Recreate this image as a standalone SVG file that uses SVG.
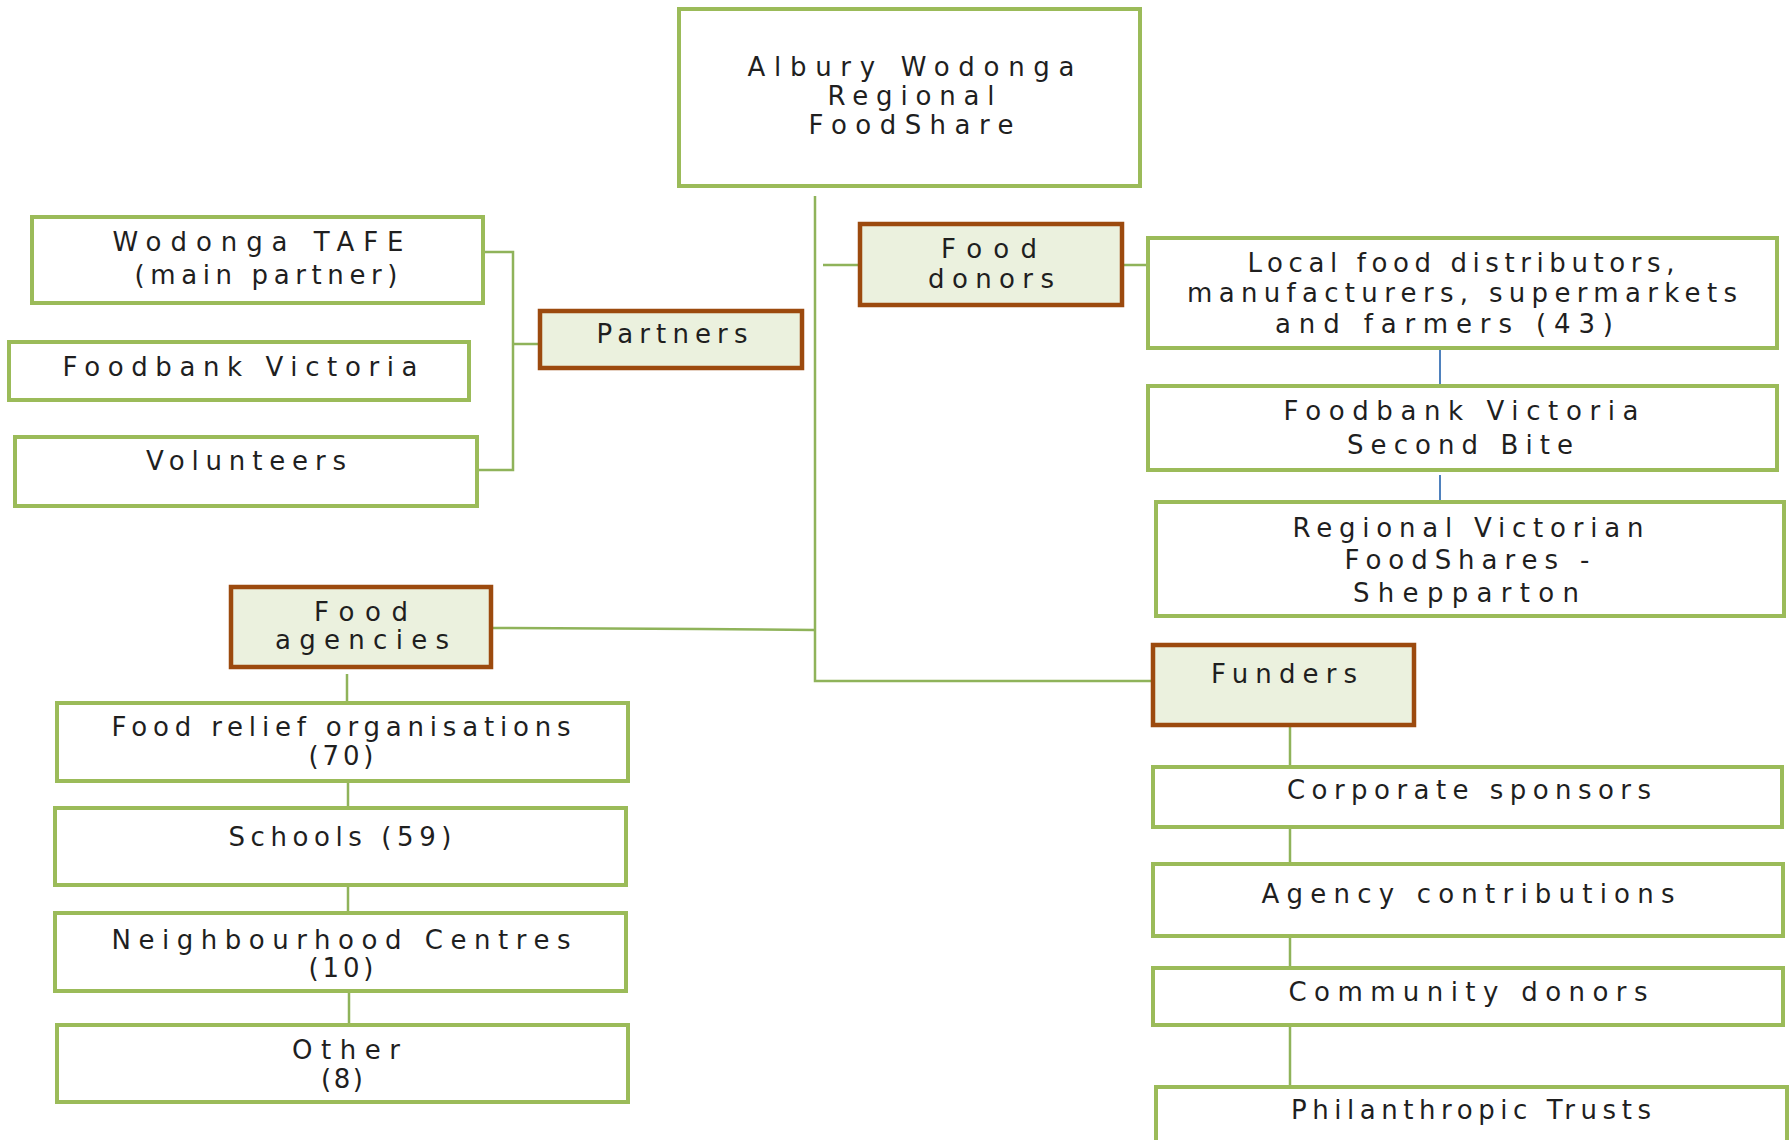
<svg xmlns="http://www.w3.org/2000/svg" width="1790" height="1140" viewBox="0 0 1790 1140">
  <style>
    .box { fill: #ffffff; stroke: #9bbb59; stroke-width: 4; }
    .head { fill: #ebf1de; stroke: #9c4a0e; stroke-width: 4.5; }
    .lbl { font-family: "DejaVu Sans", "Liberation Sans", Arial, sans-serif; font-size: 26px; fill: #1f1f1f; text-anchor: middle; }
    .link { fill: none; stroke: #8fb35a; stroke-width: 2.5; }
    .blue { fill: none; stroke: #4f81bd; stroke-width: 2; }
  </style>
  <rect width="1790" height="1140" fill="#ffffff"/>

  <!-- connectors -->
  <g id="connectors">
    <!-- trunk from the root -->
    <path class="link" d="M815,196 V681 H1153"/>
    <!-- food agencies branch -->
    <path class="link" d="M491,628 L700,629 L815,630"/>
    <!-- food donors branch -->
    <path class="link" d="M823,265 H860"/>
    <path class="link" d="M1122,265 H1148"/>
    <path class="blue" d="M1440,348 V386"/>
    <path class="blue" d="M1440,475 V502"/>
    <!-- partners bracket -->
    <path class="link" d="M483,252 H513 V470 H477"/>
    <path class="link" d="M513,344 H540"/>
    <!-- food agencies chain -->
    <path class="link" d="M347,674 V703"/>
    <path class="link" d="M348,781 V808"/>
    <path class="link" d="M348,885 V913"/>
    <path class="link" d="M349,991 V1025"/>
    <!-- funders chain -->
    <path class="link" d="M1290,725 V767"/>
    <path class="link" d="M1290,827 V864"/>
    <path class="link" d="M1290,936 V968"/>
    <path class="link" d="M1290,1025 V1087"/>
  </g>

  <g id="root">
    <rect class="box" x="679" y="9" width="461" height="177"/>
    <text class="lbl" x="911" y="76" textLength="327" lengthAdjust="spacing">Albury Wodonga</text>
    <text class="lbl" x="911" y="105" textLength="167" lengthAdjust="spacing">Regional</text>
    <text class="lbl" x="911" y="134" textLength="205" lengthAdjust="spacing">FoodShare</text>
  </g>

  <g id="wodonga-tafe">
    <rect class="box" x="32" y="217" width="451" height="86"/>
    <text class="lbl" x="258" y="251" textLength="291" lengthAdjust="spacing">Wodonga TAFE</text>
    <text class="lbl" x="266" y="284" textLength="263" lengthAdjust="spacing">(main partner)</text>
  </g>

  <g id="foodbank-victoria-partner">
    <rect class="box" x="9" y="342" width="460" height="58"/>
    <text class="lbl" x="240" y="376" textLength="355" lengthAdjust="spacing">Foodbank Victoria</text>
  </g>

  <g id="volunteers">
    <rect class="box" x="15" y="437" width="462" height="69"/>
    <text class="lbl" x="246" y="470" textLength="200" lengthAdjust="spacing">Volunteers</text>
  </g>

  <g id="partners">
    <rect class="head" x="540" y="311" width="262" height="57"/>
    <text class="lbl" x="672" y="343" textLength="151" lengthAdjust="spacing">Partners</text>
  </g>

  <g id="food-donors">
    <rect class="head" x="860" y="224" width="262" height="81"/>
    <text class="lbl" x="989" y="258" textLength="96" lengthAdjust="spacing">Food</text>
    <text class="lbl" x="991" y="288" textLength="126" lengthAdjust="spacing">donors</text>
  </g>

  <g id="local-food">
    <rect class="box" x="1148" y="238" width="629" height="110"/>
    <text class="lbl" x="1461" y="272" textLength="427" lengthAdjust="spacing">Local food distributors,</text>
    <text class="lbl" x="1462" y="302" textLength="550" lengthAdjust="spacing">manufacturers, supermarkets</text>
    <text class="lbl" x="1444" y="333" textLength="338" lengthAdjust="spacing">and farmers (43)</text>
  </g>

  <g id="foodbank-second-bite">
    <rect class="box" x="1148" y="386" width="629" height="84"/>
    <text class="lbl" x="1461" y="420" textLength="355" lengthAdjust="spacing">Foodbank Victoria</text>
    <text class="lbl" x="1460" y="454" textLength="226" lengthAdjust="spacing">Second Bite</text>
  </g>

  <g id="regional-foodshares">
    <rect class="box" x="1156" y="502" width="628" height="114"/>
    <text class="lbl" x="1468" y="537" textLength="351" lengthAdjust="spacing">Regional Victorian</text>
    <text class="lbl" x="1467" y="569" textLength="245" lengthAdjust="spacing">FoodShares -</text>
    <text class="lbl" x="1466" y="602" textLength="226" lengthAdjust="spacing">Shepparton</text>
  </g>

  <g id="food-agencies">
    <rect class="head" x="231" y="587" width="260" height="80"/>
    <text class="lbl" x="361" y="621" textLength="94" lengthAdjust="spacing">Food</text>
    <text class="lbl" x="362" y="649" textLength="174" lengthAdjust="spacing">agencies</text>
  </g>

  <g id="food-relief">
    <rect class="box" x="57" y="703" width="571" height="78"/>
    <text class="lbl" x="341" y="736" textLength="459" lengthAdjust="spacing">Food relief organisations</text>
    <text class="lbl" x="341" y="765" textLength="65" lengthAdjust="spacing">(70)</text>
  </g>

  <g id="schools">
    <rect class="box" x="55" y="808" width="571" height="77"/>
    <text class="lbl" x="340" y="846" textLength="223" lengthAdjust="spacing">Schools (59)</text>
  </g>

  <g id="neighbourhood-centres">
    <rect class="box" x="55" y="913" width="571" height="78"/>
    <text class="lbl" x="341" y="949" textLength="459" lengthAdjust="spacing">Neighbourhood Centres</text>
    <text class="lbl" x="341" y="977" textLength="65" lengthAdjust="spacing">(10)</text>
  </g>

  <g id="other">
    <rect class="box" x="57" y="1025" width="571" height="77"/>
    <text class="lbl" x="346" y="1059" textLength="108" lengthAdjust="spacing">Other</text>
    <text class="lbl" x="342" y="1088" textLength="42" lengthAdjust="spacing">(8)</text>
  </g>

  <g id="funders">
    <rect class="head" x="1153" y="645" width="261" height="80"/>
    <text class="lbl" x="1284" y="683" textLength="146" lengthAdjust="spacing">Funders</text>
  </g>

  <g id="corporate-sponsors">
    <rect class="box" x="1153" y="767" width="629" height="60"/>
    <text class="lbl" x="1469" y="799" textLength="364" lengthAdjust="spacing">Corporate sponsors</text>
  </g>

  <g id="agency-contributions">
    <rect class="box" x="1153" y="864" width="630" height="72"/>
    <text class="lbl" x="1468" y="903" textLength="413" lengthAdjust="spacing">Agency contributions</text>
  </g>

  <g id="community-donors">
    <rect class="box" x="1153" y="968" width="630" height="57"/>
    <text class="lbl" x="1468" y="1001" textLength="359" lengthAdjust="spacing">Community donors</text>
  </g>

  <g id="philanthropic-trusts">
    <rect class="box" x="1156" y="1087" width="631" height="70"/>
    <text class="lbl" x="1471" y="1119" textLength="360" lengthAdjust="spacing">Philanthropic Trusts</text>
  </g>
</svg>
